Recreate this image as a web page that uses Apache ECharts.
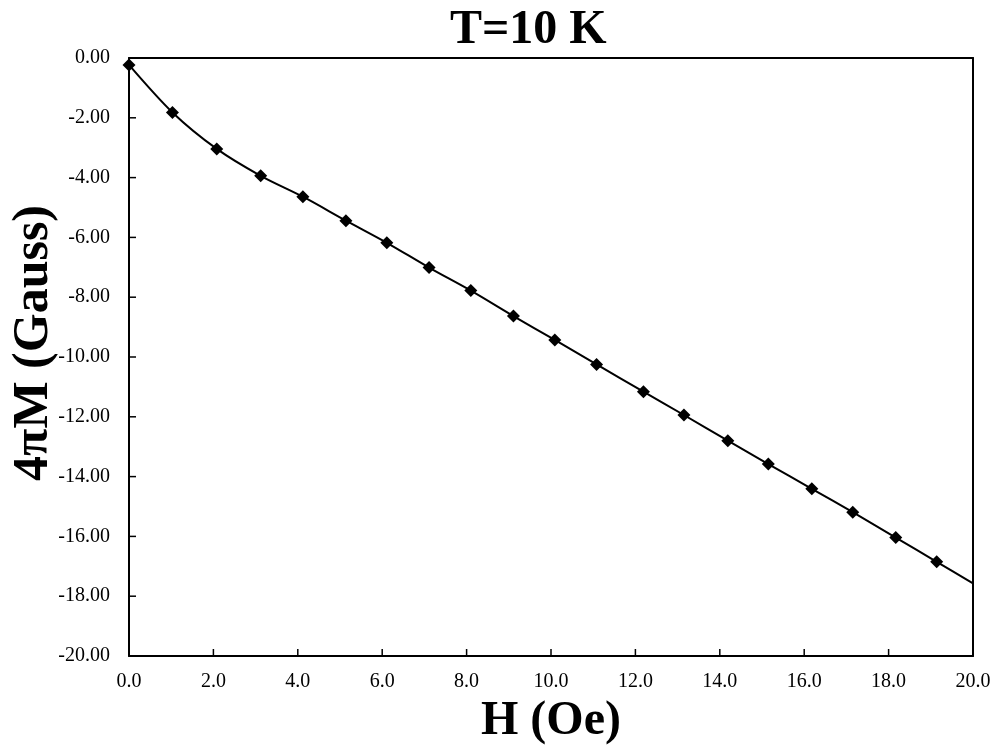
<!DOCTYPE html>
<html>
<head>
<meta charset="utf-8">
<title>T=10 K</title>
<script src="https://cdn.jsdelivr.net/npm/echarts@6/dist/echarts.min.js"></script>
<style>
  html, body { margin: 0; padding: 0; background: #fff; }
  #chart { width: 995px; height: 745px; }
</style>
</head>
<body>
<div id="chart"></div>
<script>
// H (Oe) and 4piM (Gauss)
const fieldH = [0, 1.03, 2.08, 3.12, 4.12, 5.14, 6.11, 7.11, 8.10, 9.11,
  10.09, 11.08, 12.19, 13.15, 14.19, 15.15, 16.18, 17.15, 18.17, 19.14];
const moment = [-0.23, -1.82, -3.04, -3.94, -4.64, -5.44, -6.18, -7.01, -7.78, -8.63,
  -9.43, -10.25, -11.16, -11.94, -12.80, -13.58, -14.41, -15.19, -16.04, -16.85];
// the curve runs on to the right edge
const lineEndH = 20;
const lineEndM = -17.57;

// tick positions
const xTicks = [2, 4, 6, 8, 10, 12, 14, 16, 18];
const yTicks = [-18, -16, -14, -12, -10, -8, -6, -4, -2];

const pts = fieldH.map((h, i) => [h, moment[i]]);
const curve = pts.concat([[lineEndH, lineEndM]]);

// ticks drawn as a custom series: [x, y, kind] kind 0 = bottom, 1 = left
const tickData = xTicks.map(v => [v, -20, 0]).concat(yTicks.map(v => [0, v, 1]));

const serif = 'Liberation Serif, Times New Roman, serif';
const frameLine = { show: true, onZero: false, lineStyle: { color: '#000', width: 2 } };
const TICK_LEN = 7;

const chart = echarts.init(document.getElementById('chart'));
const option = {
  animation: false,
  backgroundColor: '#fff',
  title: {
    text: 'T=10 K',
    left: 445,
    top: 2,
    textStyle: { fontFamily: serif, fontSize: 48, fontWeight: 'bold', color: '#000' }
  },
  grid: {
    left: 129, right: 22, top: 58, bottom: 89,
    containLabel: false,
    outerBoundsMode: 'none',
    show: false
  },
  xAxis: [
    {
      type: 'value',
      position: 'bottom',
      min: 0, max: 20, interval: 2,
      name: 'H (Oe)',
      nameLocation: 'middle',
      nameGap: 42,
      nameMoveOverlap: false,
      nameTextStyle: { fontFamily: serif, fontSize: 48, fontWeight: 'bold', color: '#000' },
      axisLine: frameLine,
      axisTick: { show: false },
      axisLabel: {
        margin: 16, fontFamily: serif, fontSize: 20, color: '#000',
        formatter: v => v.toFixed(1)
      },
      splitLine: { show: false }
    },
    {
      // top edge of the frame
      type: 'value',
      position: 'top',
      min: 0, max: 20,
      axisLine: frameLine,
      axisTick: { show: false },
      axisLabel: { show: false },
      splitLine: { show: false }
    }
  ],
  yAxis: [
    {
      type: 'value',
      position: 'left',
      min: -20, max: 0, interval: 2,
      name: '4πM (Gauss)',
      nameLocation: 'middle',
      nameGap: 70,
      nameMoveOverlap: false,
      nameTextStyle: {
        fontFamily: serif, fontSize: 50, fontWeight: 'bold', color: '#000',
        padding: [0, 0, 0, 28]
      },
      axisLine: frameLine,
      axisTick: { show: false },
      axisLabel: {
        margin: 19, fontFamily: serif, fontSize: 20, color: '#000',
        formatter: v => v.toFixed(2)
      },
      splitLine: { show: false }
    },
    {
      // right edge of the frame
      type: 'value',
      position: 'right',
      min: -20, max: 0,
      axisLine: frameLine,
      axisTick: { show: false },
      axisLabel: { show: false },
      splitLine: { show: false }
    }
  ],
  series: [
    {
      // inward tick marks on the left and bottom axes
      type: 'custom',
      clip: false,
      silent: true,
      data: tickData,
      renderItem: (params, api) => {
        const p = api.coord([api.value(0), api.value(1)]);
        const isBottom = api.value(2) === 0;
        return {
          type: 'line',
          shape: isBottom
            ? { x1: p[0], y1: p[1], x2: p[0], y2: p[1] - TICK_LEN }
            : { x1: p[0], y1: p[1], x2: p[0] + TICK_LEN, y2: p[1] },
          style: { stroke: '#000', lineWidth: 1.5 }
        };
      },
      z: 4
    },
    {
      type: 'line',
      data: curve,
      smooth: 0.3,
      showSymbol: false,
      lineStyle: { color: '#000', width: 2 },
      z: 2
    },
    {
      type: 'scatter',
      data: pts,
      symbol: 'diamond',
      symbolSize: 13,
      itemStyle: { color: '#000', opacity: 1 },
      z: 3
    }
  ]
};
chart.setOption(option);
</script>
</body>
</html>
